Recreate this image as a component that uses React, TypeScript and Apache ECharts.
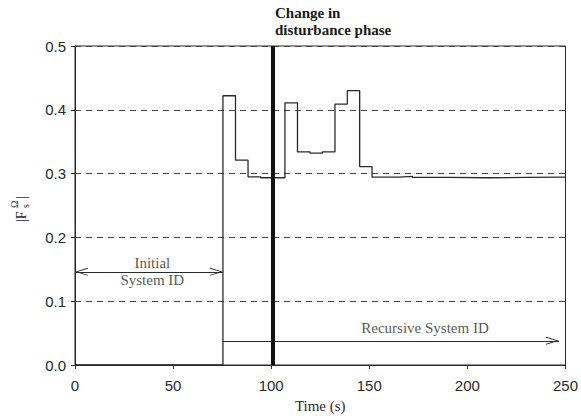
import React, { useEffect, useRef } from "react";
import * as echarts from "echarts";

// Step response of |F_s^Ω| over time (value held from each time until the next)
const stepTimes = [0, 75.4, 81.8, 88.2, 94.7, 107, 113.4, 119.8, 126.1, 132.5, 138.8, 145.1, 151.4, 165, 172, 190, 210, 230, 250];
const stepValues = [0, 0.422, 0.321, 0.295, 0.2935, 0.411, 0.334, 0.332, 0.334, 0.409, 0.43, 0.311, 0.2945, 0.2955, 0.294, 0.2935, 0.294, 0.2945, 0.2945];

const xTicks = [0, 50, 100, 150, 200, 250];
const yTicks = [0, 0.1, 0.2, 0.3, 0.4, 0.5];

const phaseChangeTime = 101;
const initialIdSpan = [0, 75.4];
const initialIdLevel = 0.146;
const recursiveIdSpan = [75.4, 246.7];
const recursiveIdLevel = 0.038;

const annotationTexts: [number, number, string][] = [
  [39.4, 0.16, "Initial"],
  [39.4, 0.133, "System ID"],
  [178.4, 0.0575, "Recursive System ID"],
];

const SERIF = "'Liberation Serif', 'Times New Roman', serif";
const SANS = "'Liberation Sans', Arial, sans-serif";
const INK = "#2a2a2a";

const chevron = "path://M5,-10 L5.01,-10 L5,-10 Z M5,0 L10,10 L8.8,10 L5,2.2 L1.2,10 L0,10 Z";

export default function App() {
  const ref = useRef<HTMLDivElement>(null);
  useEffect(() => {
    if (!ref.current) return;
    const chart = echarts.init(ref.current, undefined, { renderer: "svg" });
    const stepData = stepTimes.map((t, i) => [t, stepValues[i]]);
    chart.setOption({
      animation: false,
      grid: {
        left: 75,
        right: 13,
        top: 46,
        bottom: 53,
        show: true,
        borderColor: INK,
        borderWidth: 1,
      },
      xAxis: {
        type: "value",
        min: xTicks[0],
        max: xTicks[xTicks.length - 1],
        interval: 50,
        name: "Time (s)",
        nameLocation: "middle",
        nameGap: 33,
        nameTextStyle: { fontFamily: SERIF, fontSize: 15, color: INK },
        axisLine: { lineStyle: { color: INK, width: 1 } },
        axisTick: { show: true, inside: false, length: 4, lineStyle: { color: INK } },
        axisLabel: { fontFamily: SANS, fontSize: 15, color: INK, margin: 13 },
        splitLine: { show: false },
      },
      yAxis: {
        type: "value",
        min: yTicks[0],
        max: yTicks[yTicks.length - 1],
        interval: 0.1,
        axisLine: { show: true, lineStyle: { color: INK, width: 1 } },
        axisTick: { show: true, inside: false, length: 4, lineStyle: { color: INK } },
        axisLabel: {
          fontFamily: SANS,
          fontSize: 15,
          color: INK,
          margin: 9,
          formatter: (v: number) => v.toFixed(1),
        },
        splitLine: { show: true, lineStyle: { type: [6, 5], color: "#444", width: 1 } },
      },
      series: [
        {
          type: "line",
          step: "end",
          data: stepData,
          showSymbol: false,
          symbol: "none",
          lineStyle: { color: INK, width: 1.3 },
          z: 3,
          markLine: {
            silent: true,
            animation: false,
            label: { show: false },
            lineStyle: { type: "solid", color: INK, width: 1 },
            data: [
              [
                { coord: [initialIdSpan[0], initialIdLevel], symbol: chevron, symbolSize: [8, 26], lineStyle: { type: "solid", color: INK, width: 1 } },
                { coord: [initialIdSpan[1], initialIdLevel], symbol: chevron, symbolSize: [8, 26], lineStyle: { type: "solid", color: INK, width: 1 } },
              ],
              [
                { coord: [recursiveIdSpan[0], recursiveIdLevel], symbol: "none", lineStyle: { type: "solid", color: INK, width: 1 } },
                { coord: [recursiveIdSpan[1], recursiveIdLevel], symbol: chevron, symbolSize: [8, 26], lineStyle: { type: "solid", color: INK, width: 1 } },
              ],
              [
                { coord: [phaseChangeTime, yTicks[0]], symbol: "none", lineStyle: { type: "solid", color: "#111", width: 4 } },
                { coord: [phaseChangeTime, yTicks[yTicks.length - 1]], symbol: "none", lineStyle: { type: "solid", color: "#111", width: 4 } },
              ],
            ],
          },
        },
        {
          type: "scatter",
          data: annotationTexts,
          symbolSize: 1,
          itemStyle: { color: "rgba(0,0,0,0)" },
          silent: true,
          label: {
            show: true,
            position: "inside",
            formatter: (p: any) => p.data[2],
            fontFamily: SERIF,
            fontSize: 15,
            color: INK,
          },
          z: 4,
        },
      ],
      graphic: [
        {
          type: "text",
          left: 275,
          top: 4,
          style: {
            text: "Change in\ndisturbance phase",
            font: `bold 15px ${SERIF}`,
            fill: "#1a1a1a",
            lineHeight: 17,
          },
        },
        {
          type: "group",
          x: 21,
          y: 206,
          rotation: Math.PI / 2,
          children: [
            { type: "text", x: -16, y: 0, style: { text: "|F", font: `14px ${SERIF}`, fill: INK, verticalAlign: "middle", align: "left" } },
            { type: "text", x: -2, y: 4, style: { text: "s", font: `10px ${SERIF}`, fill: INK, verticalAlign: "middle", align: "left" } },
            { type: "text", x: -2, y: -7, style: { text: "Ω", font: `10px ${SERIF}`, fill: INK, verticalAlign: "middle", align: "left" } },
            { type: "text", x: 7, y: 0, style: { text: "|", font: `14px ${SERIF}`, fill: INK, verticalAlign: "middle", align: "left" } },
          ],
        },
      ],
    });
    return () => chart.dispose();
  }, []);
  return <div ref={ref} style={{ width: 581, height: 418, position: "absolute", left: 0, top: 0 }} />;
}
